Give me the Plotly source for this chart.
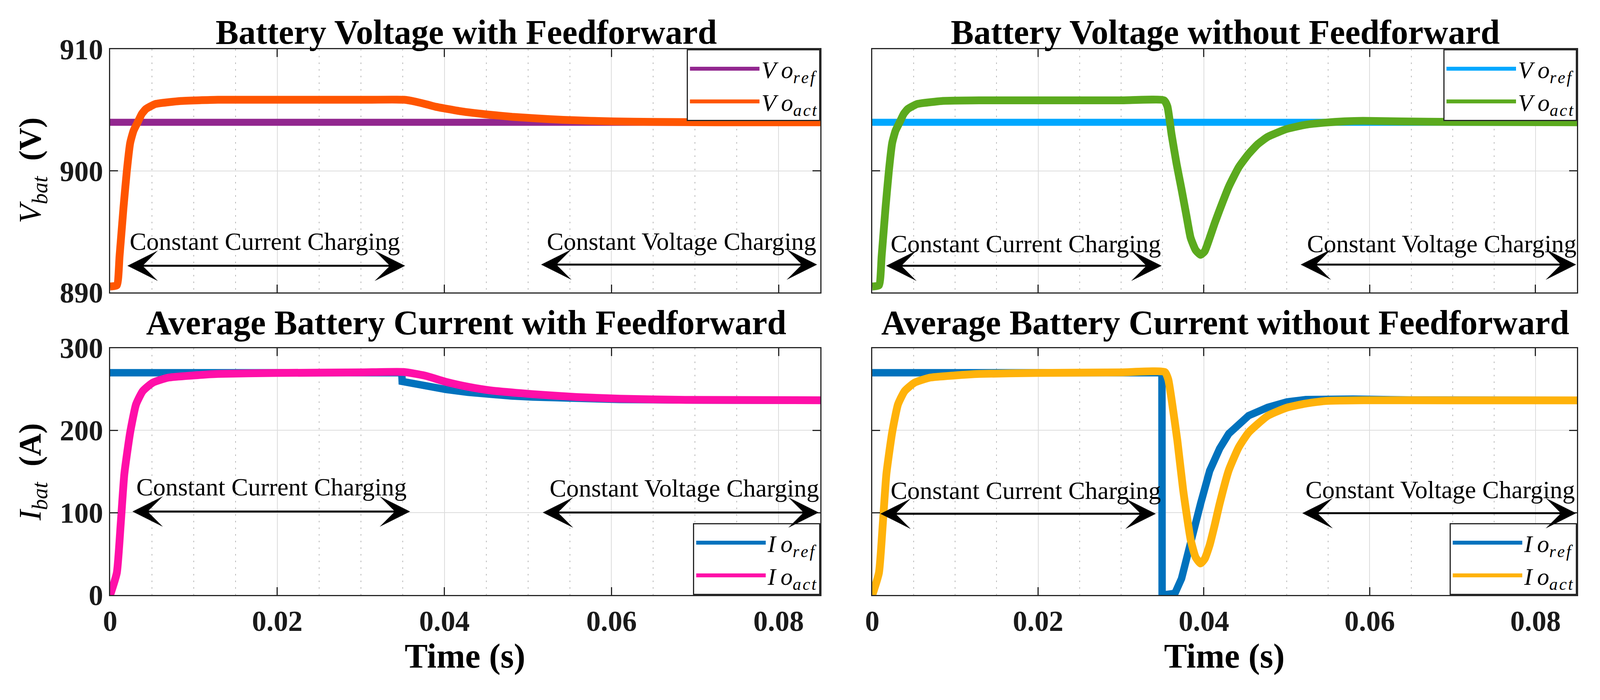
import plotly.graph_objects as go

SERIF = "Liberation Serif"

# ---------------- data ----------------
T_END = 0.085

# Battery voltage with feedforward
t_vref_ff = [0.0, 0.085]
v_ref_ff = [904.0, 904.0]
t_vact_ff = [0.0, 0.0008, 0.00113, 0.0016, 0.0020, 0.0024, 0.0028, 0.0033, 0.0038, 0.0043,
             0.0054, 0.0070, 0.0084, 0.0129, 0.020, 0.030, 0.0352, 0.0365, 0.0380, 0.0390,
             0.0420, 0.0450, 0.0481, 0.0510, 0.0542, 0.0575, 0.0603, 0.065, 0.0725, 0.085]
v_act_ff = [890.5, 890.6, 893.0, 897.0, 900.0, 902.3, 903.3, 904.0, 904.7, 905.1,
            905.5, 905.65, 905.75, 905.85, 905.85, 905.85, 905.85, 905.7, 905.45, 905.27,
            904.9, 904.65, 904.45, 904.32, 904.2, 904.12, 904.07, 904.03, 904.0, 904.0]

# Battery voltage without feedforward
t_vref_nf = [0.0, 0.085]
v_ref_nf = [904.0, 904.0]
t_vact_nf = [0.0, 0.0008, 0.00113, 0.0016, 0.0020, 0.0024, 0.0028, 0.0033, 0.0038, 0.0043,
             0.0054, 0.0070, 0.0084, 0.0129, 0.020, 0.030, 0.0352, 0.0356, 0.0361, 0.0367,
             0.0373, 0.0379, 0.0384, 0.0390, 0.0396, 0.0401, 0.0407, 0.0413, 0.0419, 0.0430,
             0.0442, 0.0454, 0.0465, 0.0477, 0.0500, 0.0523, 0.0546, 0.0570, 0.0592, 0.0639,
             0.070, 0.085]
v_act_nf = [890.5, 890.6, 893.0, 897.0, 900.0, 902.3, 903.3, 904.0, 904.7, 905.1,
            905.5, 905.65, 905.75, 905.8, 905.8, 905.8, 905.8, 905.3, 903.0, 900.6,
            898.5, 896.3, 894.5, 893.5, 893.1, 893.4, 894.5, 895.7, 896.8, 898.7,
            900.3, 901.4, 902.2, 902.8, 903.45, 903.8, 903.97, 904.08, 904.12, 904.07,
            904.03, 904.0]

# Average battery current with feedforward
t_iref_ff = [0.0, 0.0349, 0.03495, 0.0376, 0.0402, 0.0428, 0.0454, 0.0480, 0.0506, 0.0558,
             0.0610, 0.070, 0.085]
i_ref_ff = [270.0, 270.0, 259.5, 254.0, 249.7, 246.3, 243.6, 241.8, 240.5, 238.8,
            237.6, 236.8, 236.5]
t_iact_ff = [0.0, 0.0008, 0.00127, 0.0017, 0.0024, 0.0031, 0.0039, 0.0051, 0.0069, 0.0099,
             0.0129, 0.020, 0.030, 0.0351, 0.0376, 0.0402, 0.0428, 0.0454, 0.0506, 0.0558,
             0.061, 0.0688, 0.085]
i_act_ff = [0.0, 27.0, 87.0, 147.0, 197.6, 231.6, 247.7, 258.0, 264.0, 266.7,
            268.6, 269.8, 270.5, 271.0, 266.7, 258.9, 253.0, 248.7, 244.0, 240.5,
            238.5, 237.1, 236.6]

# Average battery current without feedforward
t_iref_nf = [0.0, 0.03494, 0.03496, 0.0356, 0.0365, 0.0373, 0.0384, 0.0396, 0.0407, 0.0419,
             0.0430, 0.0442, 0.0454, 0.0477, 0.0500, 0.0523, 0.0546, 0.058, 0.065, 0.085]
i_ref_nf = [270.0, 270.0, 0.0, 0.0, 2.0, 20.0, 67.0, 111.0, 151.0, 178.0,
            196.0, 208.0, 218.0, 228.0, 234.5, 237.5, 238.5, 238.0, 237.0, 236.5]
t_iact_nf = [0.0, 0.0008, 0.00127, 0.0017, 0.0024, 0.0031, 0.0039, 0.0051, 0.0069, 0.0099,
             0.0129, 0.020, 0.030, 0.0353, 0.0357, 0.0361, 0.0368, 0.0375, 0.0384, 0.0390,
             0.0396, 0.0401, 0.0407, 0.0413, 0.0419, 0.0430, 0.0442, 0.0454, 0.0477, 0.0500,
             0.0523, 0.0546, 0.0592, 0.070, 0.085]
i_act_nf = [0.0, 27.0, 87.0, 147.0, 197.6, 231.6, 247.7, 258.0, 264.0, 266.7,
            268.6, 269.8, 270.5, 270.8, 262.0, 237.6, 187.6, 127.5, 67.5, 46.0,
            38.4, 44.0, 61.0, 85.0, 111.0, 151.6, 179.5, 197.6, 217.7, 227.6,
            232.6, 235.7, 236.6, 236.5, 236.5]

titles = ["Battery Voltage with Feedforward", "Battery Voltage without Feedforward",
          "Average Battery Current with Feedforward", "Average Battery Current without Feedforward"]
x_ticks = [0, 0.02, 0.04, 0.06, 0.08]
v_ticks = [890, 900, 910]
i_ticks = [0, 100, 200, 300]

# ---------------- figure ----------------
W, H = 4222, 1793
DX = -12


def px(x):
    return (x + DX) / W


def py(y):
    return 1 - y / H


XL = [px(278), px(2168)]
XR = [px(2306), px(4181)]
YT = [py(735), py(82)]
YB = [py(1547), py(884)]

fig = go.Figure()


def add(x, y, name, color, width, xa, ya, legend, smooth):
    line = dict(color=color, width=width)
    if smooth:
        line.update(shape="spline", smoothing=0.5)
    fig.add_trace(go.Scatter(x=x, y=y, mode="lines", name=name, line=line,
                             xaxis=xa, yaxis=ya, legend=legend))


REF_V = "<i>V\u2009o</i><sub><i>r\u200ae\u200af</i></sub>"
ACT_V = "<i>V\u2009o</i><sub><i>a\u200ac\u200at</i></sub>"
REF_I = "<i>I\u2009o</i><sub><i>r\u200ae\u200af</i></sub>"
ACT_I = "<i>I\u2009o</i><sub><i>a\u200ac\u200at</i></sub>"

add(t_vref_ff, v_ref_ff, REF_V, "#92278F", 18, "x", "y", "legend", False)
add(t_vact_ff, v_act_ff, ACT_V, "#FF5500", 20, "x", "y", "legend", True)
add(t_vref_nf, v_ref_nf, REF_V, "#00A8FF", 18, "x2", "y2", "legend2", False)
add(t_vact_nf, v_act_nf, ACT_V, "#5BAA1E", 20, "x2", "y2", "legend2", True)
add(t_iref_ff, i_ref_ff, REF_I, "#0072BD", 19, "x3", "y3", "legend3", False)
add(t_iact_ff, i_act_ff, ACT_I, "#FF0FA8", 20, "x3", "y3", "legend3", True)
add(t_iref_nf, i_ref_nf, REF_I, "#0072BD", 19, "x4", "y4", "legend4", False)
add(t_iact_nf, i_act_nf, ACT_I, "#FFB20A", 20, "x4", "y4", "legend4", True)

AX = "#262626"
tickfont = dict(family=SERIF, size=74, color="#1a1a1a", weight="bold")


def xax(domain, anchor, labels):
    return dict(domain=domain, anchor=anchor, range=[0, T_END], tickvals=x_ticks,
                ticktext=[("%g" % v) for v in x_ticks],
                showticklabels=labels, ticks="inside", ticklen=20, tickwidth=3, tickcolor=AX,
                showline=True, linewidth=3, linecolor=AX, mirror="ticks",
                showgrid=True, gridcolor="#DCDCDC", gridwidth=2, zeroline=False,
                minor=dict(dtick=0.005, tick0=0, showgrid=True, gridcolor="#B8B8B8",
                           griddash="4px,13px", gridwidth=2, ticks=""),
                tickfont=tickfont, ticklabelstandoff=0)


def yax(domain, anchor, rng, vals, labels):
    return dict(domain=domain, anchor=anchor, range=rng, tickvals=vals,
                showticklabels=labels, ticks="inside", ticklen=20, tickwidth=3, tickcolor=AX,
                showline=True, linewidth=3, linecolor=AX, mirror="ticks",
                showgrid=True, gridcolor="#DCDCDC", gridwidth=2, zeroline=False,
                tickfont=tickfont, ticklabelstandoff=0)


def leg(x, y, yanchor):
    return dict(x=x, y=y, xanchor="right", yanchor=yanchor, xref="paper", yref="paper",
                bgcolor="white", bordercolor=AX, borderwidth=3, itemwidth=178,
                font=dict(family=SERIF, size=62, color="black"), tracegroupgap=0)


fig.update_layout(
    autosize=True, height=H, margin=dict(l=0, r=0, t=0, b=0),
    paper_bgcolor="white", plot_bgcolor="white",
    xaxis=xax(XL, "y", False), yaxis=yax(YT, "x", [890, 910], v_ticks, True),
    xaxis2=xax(XR, "y2", False), yaxis2=yax(YT, "x2", [890, 910], v_ticks, False),
    xaxis3=xax(XL, "y3", True), yaxis3=yax(YB, "x3", [0, 300], i_ticks, True),
    xaxis4=xax(XR, "y4", True), yaxis4=yax(YB, "x4", [0, 300], i_ticks, False),
    legend=leg(XL[1], YT[1], "top"), legend2=leg(XR[1], YT[1], "top"),
    legend3=leg(XL[1], YB[0], "bottom"), legend4=leg(XR[1], YB[0], "bottom"),
    showlegend=True,
)

# subplot titles
title_pos = [(1225, 36), (3245, 36), (1225, 816), (3245, 816)]
for txt, (tx, ty) in zip(titles, title_pos):
    fig.add_annotation(x=px(tx), y=py(ty), xref="paper", yref="paper", text="<b>%s</b>" % txt,
                       showarrow=False, xanchor="center", yanchor="middle",
                       font=dict(family=SERIF, size=88, color="black"))

# axis titles
for tx in (1222, 3243):
    fig.add_annotation(x=px(tx), y=py(1711), xref="paper", yref="paper", text="<b>Time (s)</b>",
                       showarrow=False, xanchor="center", yanchor="middle",
                       font=dict(family=SERIF, size=88, color="black"))
fig.add_annotation(x=px(72), y=py(407), xref="paper", yref="paper",
                   text="<i>V</i><sub><i>bat</i></sub>  <b>(V)</b>", textangle=-90,
                   showarrow=False, xanchor="center", yanchor="middle",
                   font=dict(family=SERIF, size=80, color="black"))
fig.add_annotation(x=px(72), y=py(1217), xref="paper", yref="paper",
                   text="<i>I</i><sub><i>bat</i></sub>  <b>(A)</b>", textangle=-90,
                   showarrow=False, xanchor="center", yanchor="middle",
                   font=dict(family=SERIF, size=80, color="black"))

# charging-phase labels and arrows
labels = [
    ("x", "y", "Constant Current Charging", 0.0185, 894.2, 0.0020, 0.0353, 892.2),
    ("x", "y", "Constant Voltage Charging", 0.0684, 894.2, 0.0515, 0.0846, 892.3),
    ("x2", "y2", "Constant Current Charging", 0.0185, 894.0, 0.0016, 0.0349, 892.2),
    ("x2", "y2", "Constant Voltage Charging", 0.0687, 894.0, 0.0516, 0.0849, 892.3),
    ("x3", "y3", "Constant Current Charging", 0.0193, 131.0, 0.0026, 0.0359, 101.5),
    ("x3", "y3", "Constant Voltage Charging", 0.0687, 130.0, 0.0517, 0.0848, 100.3),
    ("x4", "y4", "Constant Current Charging", 0.0185, 127.0, 0.0009, 0.0342, 98.8),
    ("x4", "y4", "Constant Voltage Charging", 0.0685, 128.0, 0.0518, 0.0849, 99.4),
]
for xr, yr, txt, tx, ty, a0, a1, ay in labels:
    fig.add_annotation(x=tx, y=ty, xref=xr, yref=yr, text=txt, showarrow=False,
                       xanchor="center", yanchor="middle",
                       font=dict(family=SERIF, size=64, color="black"))
    fig.add_annotation(x=a1, y=ay, ax=a0, ay=ay, xref=xr, yref=yr, axref=xr, ayref=yr,
                       text="", showarrow=True, arrowhead=3, startarrowhead=3,
                       arrowside="end+start", arrowwidth=5, arrowsize=2.6, startarrowsize=2.6,
                       arrowcolor="black")

fig.write_html("out.html")
